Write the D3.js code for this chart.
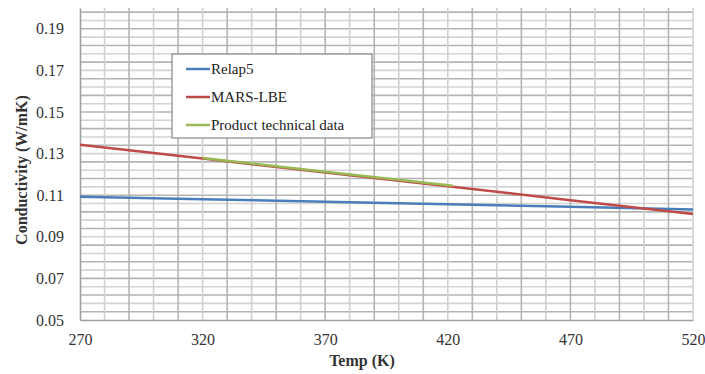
<!DOCTYPE html>
<html>
<head>
<meta charset="utf-8">
<script src="https://cdn.jsdelivr.net/npm/d3@7"></script>
<style>
  body { margin: 0; background: #fff; }
  svg { display: block; }
</style>
</head>
<body>
<svg id="chart" width="705" height="374"></svg>
<script>
// values
const temps = [270, 320, 370, 420, 470, 520];
const relap5 = [0.1092, 0.1081, 0.1069, 0.1056, 0.1044, 0.1031];
const marsLbe = [0.1342, 0.1276, 0.1209, 0.1143, 0.1076, 0.1010];
const productTemps = [320, 370, 422];
const productData = [0.1279, 0.1213, 0.1145];
const xTicks = [270, 320, 370, 420, 470, 520];
const yTicks = [0.05, 0.07, 0.09, 0.11, 0.13, 0.15, 0.17, 0.19];

const series = [
  { name: 'Relap5', color: '#4a7ebb', x: temps, y: relap5 },
  { name: 'MARS-LBE', color: '#be4b48', x: temps, y: marsLbe },
  { name: 'Product technical data', color: '#98b954', x: productTemps, y: productData }
];

const font = '"Liberation Serif", "Times New Roman", serif';

const svg = d3.select('#chart')
  .attr('font-family', font);
const margin = { top: 8, right: 12, bottom: 54, left: 80 };
const width = 705, height = 374;
const innerWidth = width - margin.left - margin.right;
const innerHeight = height - margin.top - margin.bottom;

const xScale = d3.scaleLinear().domain([270, 520]).range([0, innerWidth]);
const yScale = d3.scaleLinear().domain([0.05, 0.20]).range([innerHeight, 0]);

const g = svg.append('g')
  .attr('transform', `translate(${margin.left},${margin.top})`);

// grid: every 10 K and every 0.004
const vGrid = d3.range(280, 521, 10);
const hGrid = d3.range(1, 38).map(i => 0.05 + i * 0.004);

g.selectAll('.hgrid')
  .data(hGrid)
  .enter()
  .append('line')
  .attr('x1', 0)
  .attr('x2', innerWidth)
  .attr('y1', d => yScale(d))
  .attr('y2', d => yScale(d))
  .attr('stroke', (d, i) => i % 2 === 0 ? '#b4b4b4' : '#d4d4d4')
  .attr('stroke-width', 1.6);

g.selectAll('.vgrid')
  .data(vGrid)
  .enter()
  .append('line')
  .attr('x1', d => xScale(d))
  .attr('x2', d => xScale(d))
  .attr('y1', 0)
  .attr('y2', innerHeight)
  .attr('stroke', (d, i) => i % 2 === 0 ? '#d0d0d0' : '#b4b4b4')
  .attr('stroke-width', 1.6);

// axes
const xAxis = g.append('g')
  .attr('transform', `translate(0,${innerHeight})`)
  .call(d3.axisBottom(xScale).tickValues(xTicks).tickSize(0).tickPadding(14))
  .attr('font-family', font)
  .attr('font-size', 16);
xAxis.select('.domain').attr('stroke', '#a0a0a0').attr('stroke-width', 1.6);

const yAxis = g.append('g')
  .call(d3.axisLeft(yScale).tickValues(yTicks).tickSize(0).tickPadding(16)
    .tickFormat(d3.format('.2f')))
  .attr('font-family', font)
  .attr('font-size', 16);
yAxis.select('.domain').attr('stroke', '#a0a0a0').attr('stroke-width', 1.6);

svg.selectAll('.tick text').attr('fill', '#333');

// lines
const line = d3.line()
  .x(d => xScale(d[0]))
  .y(d => yScale(d[1]));

series.forEach(s => {
  g.append('path')
    .datum(s.x.map((t, i) => [t, s.y[i]]))
    .attr('fill', 'none')
    .attr('stroke', s.color)
    .attr('stroke-width', 2.5)
    .attr('d', line);
});

// axis titles
svg.append('text')
  .attr('x', margin.left + xScale(385))
  .attr('y', 366)
  .attr('text-anchor', 'middle')
  .attr('font-size', 16)
  .attr('font-weight', 'bold')
  .attr('fill', '#333')
  .text('Temp (K)');

svg.append('text')
  .attr('transform', `translate(27,${margin.top + innerHeight / 2 + 6}) rotate(-90)`)
  .attr('text-anchor', 'middle')
  .attr('font-size', 16)
  .attr('font-weight', 'bold')
  .attr('fill', '#333')
  .text('Conductivity (W/mK)');

// legend
const legend = svg.append('g').attr('transform', 'translate(172,54)');
legend.append('rect')
  .attr('width', 200)
  .attr('height', 84)
  .attr('fill', '#fff')
  .attr('stroke', '#888')
  .attr('stroke-width', 1.2);

series.forEach((s, i) => {
  const y = 15 + i * 28;
  legend.append('line')
    .attr('x1', 14).attr('x2', 38)
    .attr('y1', y).attr('y2', y)
    .attr('stroke', s.color)
    .attr('stroke-width', 2.5);
  legend.append('text')
    .attr('x', 39)
    .attr('y', y + 5)
    .attr('font-size', 15)
    .attr('fill', '#222')
    .text(s.name);
});
</script>
</body>
</html>
